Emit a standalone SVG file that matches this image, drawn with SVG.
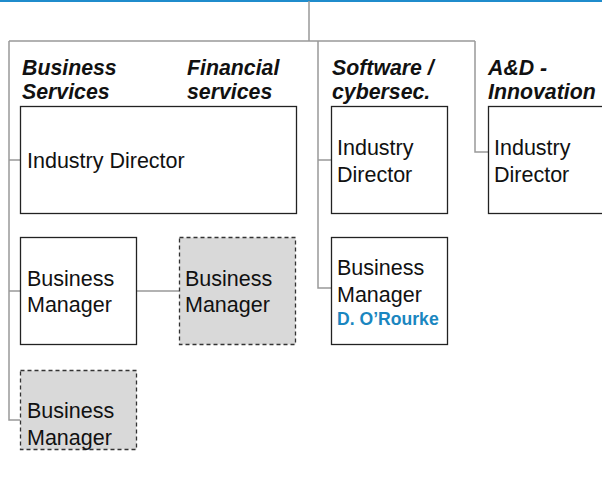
<svg xmlns="http://www.w3.org/2000/svg" width="602" height="478" viewBox="0 0 602 478">
<style>
.box{fill:#fff;stroke:#222;stroke-width:1.3}
.vac{fill:#d9d9d9;stroke:#333;stroke-width:1.3;stroke-dasharray:4 3}
.ln{fill:none;stroke:#999;stroke-width:1.5}
.t{font-family:"Liberation Sans",Arial,sans-serif;font-size:21.5px;fill:#111}
.h{font-family:"Liberation Sans",Arial,sans-serif;font-size:21.3px;font-weight:bold;font-style:italic;fill:#111}
.n{font-family:"Liberation Sans",Arial,sans-serif;font-size:17.6px;font-weight:bold;fill:#1a86c0}
</style>
<rect x="0" y="0" width="602" height="478" fill="#fff"/>
<line x1="0" y1="1" x2="602" y2="1" stroke="#1f8ccc" stroke-width="2"/>
<g id="connectors">
<path class="ln" d="M309 1V41M9 41H475M9 41V420H20M9 160H20M9 291H20M137 291H179M318 41V288H331M318 160H331M475 41V152H488"/>
</g>
<g id="headings">
<text class="h" x="22" y="75">Business</text>
<text class="h" x="22" y="99">Services</text>
<text class="h" x="187" y="75">Financial</text>
<text class="h" x="187" y="99">services</text>
<text class="h" x="332" y="75">Software /</text>
<text class="h" x="332" y="99">cybersec.</text>
<text class="h" x="488" y="75">A&amp;D -</text>
<text class="h" x="488" y="99">Innovation</text>
</g>
<g id="bs-director">
<rect class="box" x="20.5" y="106.5" width="276" height="107"/>
<text class="t" x="27" y="168">Industry Director</text>
</g>
<g id="bs-manager">
<rect class="box" x="20.5" y="237.5" width="116" height="107"/>
<text class="t" x="27" y="286">Business</text>
<text class="t" x="27" y="312">Manager</text>
</g>
<g id="fs-manager">
<rect class="vac" x="179.5" y="237.5" width="116" height="107"/>
<text class="t" x="185" y="286">Business</text>
<text class="t" x="185" y="312">Manager</text>
</g>
<g id="bs-manager2">
<rect class="vac" x="20.5" y="370.5" width="116" height="79"/>
<text class="t" x="27" y="418">Business</text>
<text class="t" x="27" y="445">Manager</text>
</g>
<g id="sw-director">
<rect class="box" x="331.5" y="106.5" width="116" height="107"/>
<text class="t" x="337" y="155">Industry</text>
<text class="t" x="337" y="182">Director</text>
</g>
<g id="sw-manager">
<rect class="box" x="331.5" y="237.5" width="116" height="107"/>
<text class="t" x="337" y="275">Business</text>
<text class="t" x="337" y="302">Manager</text>
<text class="n" x="337" y="325">D. O’Rourke</text>
</g>
<g id="ad-director">
<rect class="box" x="488.5" y="106.5" width="120" height="107"/>
<text class="t" x="494" y="155">Industry</text>
<text class="t" x="494" y="182">Director</text>
</g>
</svg>
